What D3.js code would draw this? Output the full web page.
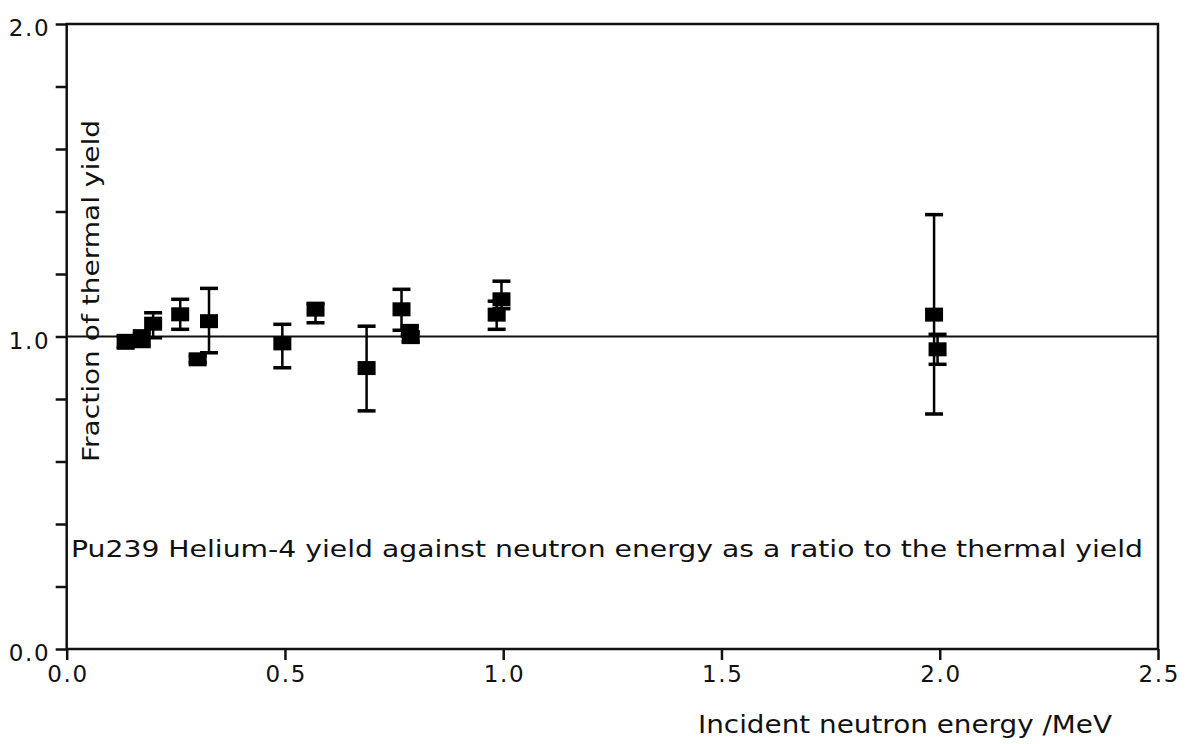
<!DOCTYPE html>
<html>
<head>
<meta charset="utf-8">
<script src="https://cdn.jsdelivr.net/npm/d3@7"></script>
<style>
  html, body { margin: 0; padding: 0; background: #fff; }
  svg { display: block; }
  text { font-family: "DejaVu Sans", "Liberation Sans", sans-serif; fill: #111; }
</style>
</head>
<body>
<svg id="chart" width="1190" height="744"></svg>
<script>
// ---- data ----
const energy  = [0.135, 0.172, 0.198, 0.260, 0.300, 0.326, 0.494, 0.570, 0.687, 0.767, 0.786, 0.788, 0.985, 0.996, 1.987, 1.995];
const ratio   = [0.983, 0.993, 1.041, 1.071, 0.927, 1.049, 0.978, 1.086, 0.899, 1.087, 1.018, 0.998, 1.070, 1.119, 1.070, 0.959];
const errUp   = [0.020, 0.025, 0.035, 0.048, 0.010, 0.105, 0.061, 0.020, 0.134, 0.064, 0.015, 0.015, 0.043, 0.058, 0.320, 0.048];
const errDown = [0.020, 0.025, 0.045, 0.048, 0.010, 0.101, 0.078, 0.042, 0.137, 0.067, 0.015, 0.015, 0.047, 0.030, 0.318, 0.048];
const xTicks = [0, 0.5, 1.0, 1.5, 2.0, 2.5];
const yTicks = [0, 0.2, 0.4, 0.6, 0.8, 1.0, 1.2, 1.4, 1.6, 1.8, 2.0];
const yLabelled = [0, 1.0, 2.0];
const referenceLevel = 1.0;
const titleText = "Pu239 Helium-4 yield against neutron energy as a ratio to the thermal yield";
const xTitle = "Incident neutron energy /MeV";
const yTitle = "Fraction of thermal yield";

const points = energy.map((e, i) => ({ e, r: ratio[i], up: errUp[i], dn: errDown[i] }));

// ---- layout ----
const svg = d3.select("#chart");
const L = 66.7, R = 1158, T = 24, B = 649;
const x = d3.scaleLinear().domain([0, 2.5]).range([L, R]);
const y = d3.scaleLinear().domain([0, 2]).range([B, T]);
const fmt = d3.format(".1f");
const ink = "#111";

// x axis ticks + labels
const gx = svg.append("g").attr("transform", `translate(0,${B})`)
  .call(d3.axisBottom(x).tickValues(xTicks).tickFormat(fmt).tickSize(11).tickPadding(6));
gx.select(".domain").remove();
gx.selectAll("line").attr("stroke", ink).attr("stroke-width", 2.5);
gx.selectAll("text").style("font-size", "23px").attr("fill", ink)
  .attr("textLength", 40).attr("lengthAdjust", "spacing");

// y axis ticks + labels
const gy = svg.append("g").attr("transform", `translate(${L},0)`)
  .call(d3.axisLeft(y).tickValues(yTicks)
    .tickFormat(d => yLabelled.some(v => Math.abs(v - d) < 1e-9) ? fmt(d) : "")
    .tickSize(11).tickPadding(7));
gy.select(".domain").remove();
gy.selectAll("line").attr("stroke", ink).attr("stroke-width", 2.5);
gy.selectAll("text").filter(function () { return this.textContent !== ""; })
  .style("font-size", "23px").attr("fill", ink).attr("dy", "0.5em")
  .attr("textLength", 40).attr("lengthAdjust", "spacing");

// frame
svg.append("rect")
  .attr("x", x(0)).attr("y", y(2)).attr("width", x(2.5) - x(0)).attr("height", y(0) - y(2))
  .attr("fill", "none").attr("stroke", ink).attr("stroke-width", 2.5);

// reference line at 1.0
svg.append("line")
  .attr("x1", x(0)).attr("x2", x(2.5)).attr("y1", y(referenceLevel)).attr("y2", y(referenceLevel))
  .attr("stroke", ink).attr("stroke-width", 2.2);

// error bars
const eb = svg.append("g");
const capW = 18;
points.forEach(p => {
  const cx = x(p.e);
  eb.append("line").attr("x1", cx).attr("x2", cx)
    .attr("y1", y(p.r + p.up)).attr("y2", y(p.r - p.dn))
    .attr("stroke", "#000").attr("stroke-width", 2.5);
  [p.r + p.up, p.r - p.dn].forEach(v => {
    eb.append("rect").attr("x", cx - capW / 2).attr("y", y(v) - 1.75)
      .attr("width", capW).attr("height", 3.5).attr("fill", "#000");
  });
});

// square markers
const mW = 18, mH = 14;
svg.append("g").selectAll("rect").data(points).join("rect")
  .attr("x", d => x(d.e) - mW / 2).attr("y", d => y(d.r) - mH / 2)
  .attr("width", mW).attr("height", mH).attr("fill", "#000");

// texts
svg.append("text").attr("x", 71).attr("y", 557)
  .attr("textLength", 1072).attr("lengthAdjust", "spacingAndGlyphs")
  .style("font-size", "23px").text(titleText);

svg.append("text").attr("x", 698).attr("y", 733)
  .attr("textLength", 414).attr("lengthAdjust", "spacingAndGlyphs")
  .style("font-size", "24px").text(xTitle);

svg.append("text")
  .attr("transform", "translate(99,462) rotate(-90)")
  .attr("x", 0).attr("y", 0)
  .attr("textLength", 342).attr("lengthAdjust", "spacingAndGlyphs")
  .style("font-size", "23px").text(yTitle);
</script>
</body>
</html>
